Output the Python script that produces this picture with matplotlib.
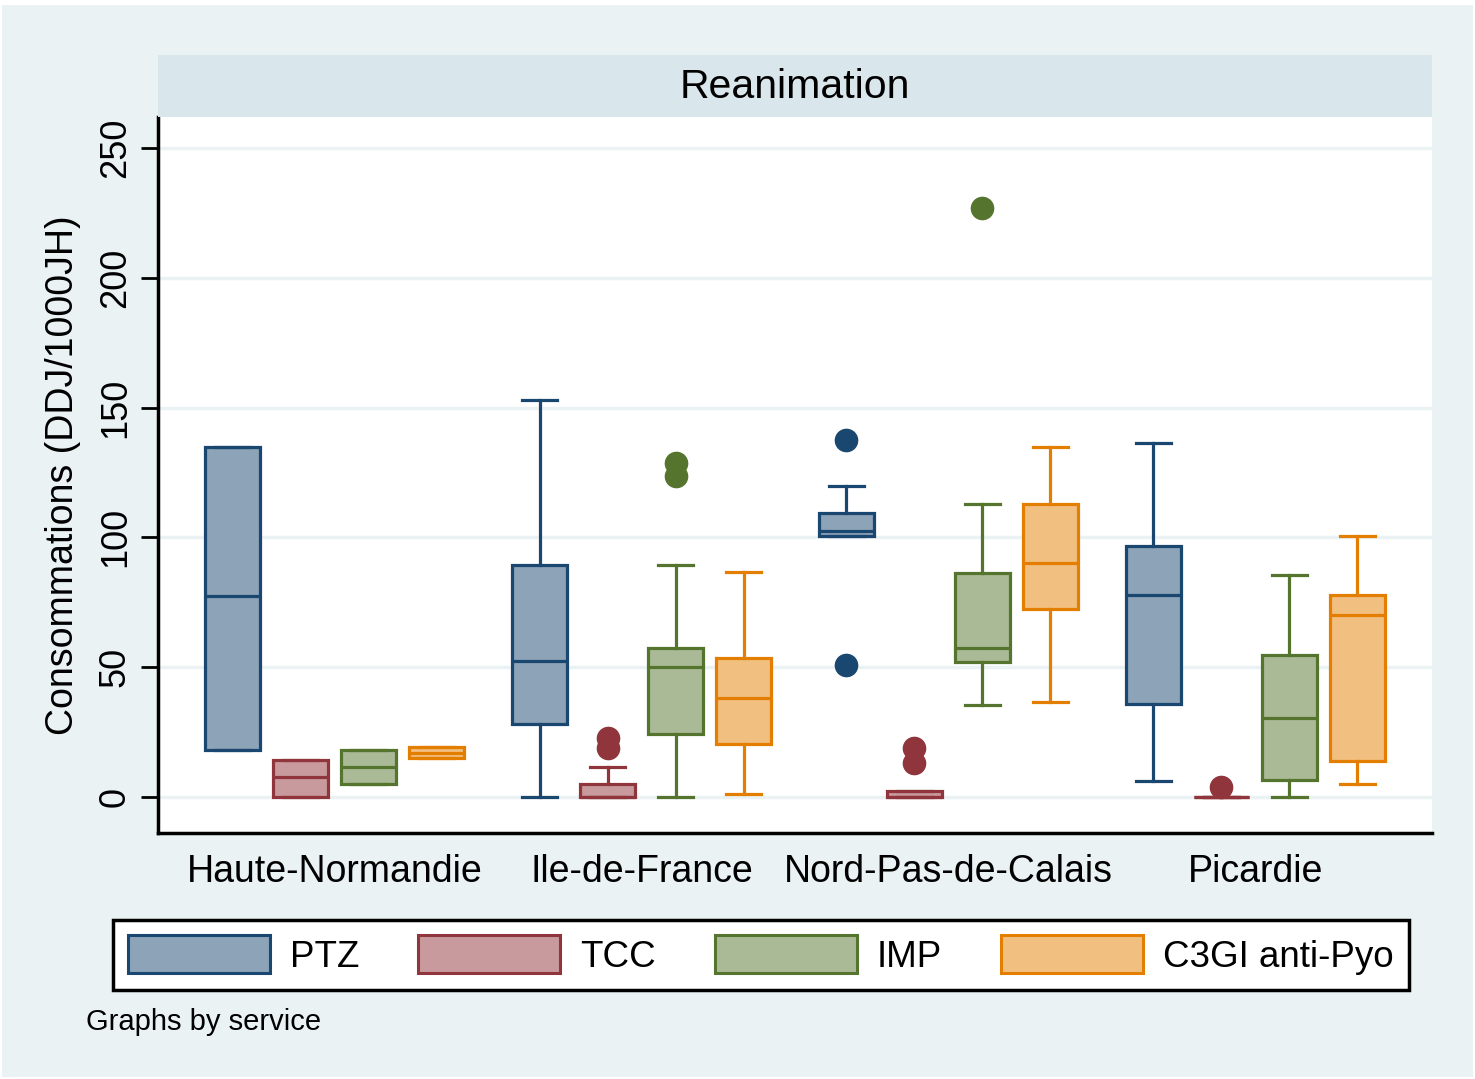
import numpy as np
import matplotlib.pyplot as plt
from matplotlib.patches import Patch, Rectangle

plt.rcParams['font.family'] = ['Liberation Sans', 'DejaVu Sans']

# Données
regions = ['Haute-Normandie', 'Ile-de-France', 'Nord-Pas-de-Calais', 'Picardie']
series = ['PTZ', 'TCC', 'IMP', 'C3GI anti-Pyo']

# une liste par série, un élément par région
ptz_whislo = [18.1, 0.0, 100.5, 6.3]
ptz_q1 = [18.1, 28.2, 100.5, 35.9]
ptz_med = [77.5, 52.2, 102.4, 77.8]
ptz_q3 = [135.0, 89.2, 109.4, 96.8]
ptz_whishi = [135.0, 152.8, 119.7, 136.5]
ptz_out = [[], [], [137.5, 50.7], []]

tcc_whislo = [0.0, 0.0, 0.0, 0.0]
tcc_q1 = [0.0, 0.0, 0.0, 0.0]
tcc_med = [7.7, 0.0, 0.0, 0.0]
tcc_q3 = [14.1, 5.0, 2.4, 0.0]
tcc_whishi = [14.1, 11.4, 2.4, 0.0]
tcc_out = [[], [22.6, 18.8], [18.9, 12.9], [4.0]]

imp_whislo = [5.0, 0.0, 35.4, 0.0]
imp_q1 = [5.0, 24.3, 52.0, 6.6]
imp_med = [11.6, 50.0, 57.2, 30.6]
imp_q3 = [18.1, 57.4, 86.3, 54.7]
imp_whishi = [18.1, 89.2, 113.0, 85.4]
imp_out = [[], [128.7, 123.6], [226.8], []]

c3g_whislo = [15.0, 1.2, 36.7, 5.0]
c3g_q1 = [15.0, 20.4, 72.4, 14.0]
c3g_med = [17.0, 38.3, 90.2, 70.1]
c3g_q3 = [19.3, 53.5, 113.0, 77.8]
c3g_whishi = [19.3, 86.7, 134.8, 100.7]
c3g_out = [[], [], [], []]

edge_colors = ['#1A476F', '#90353B', '#55752F', '#E37E00']
fill_colors = ['#8CA3B8', '#C89A9D', '#AABA96', '#F1BF80']

all_stats = [
    (ptz_whislo, ptz_q1, ptz_med, ptz_q3, ptz_whishi, ptz_out),
    (tcc_whislo, tcc_q1, tcc_med, tcc_q3, tcc_whishi, tcc_out),
    (imp_whislo, imp_q1, imp_med, imp_q3, imp_whishi, imp_out),
    (c3g_whislo, c3g_q1, c3g_med, c3g_q3, c3g_whishi, c3g_out),
]

BG = '#EAF2F3'
STRIP = '#D9E6EB'

fig = plt.figure(figsize=(14.75, 10.79), dpi=100, facecolor='white')
fig.patches.append(Rectangle((2 / 1475, 2 / 1079), 1471 / 1475, 1072 / 1079,
                             transform=fig.transFigure, facecolor=BG,
                             edgecolor='none', zorder=-10))

W, H = 1475, 1079
ax = fig.add_axes([158 / W, 1 - 833 / H, (1432 - 158) / W, (833 - 117) / H])
ax.set_facecolor('white')

# bandeau du titre
strip = fig.add_axes([158 / W, 1 - 117 / H, (1432 - 158) / W, (117 - 55) / H])
strip.set_facecolor(STRIP)
strip.set_xticks([])
strip.set_yticks([])
for s in strip.spines.values():
    s.set_visible(False)
strip.text(0.5, 0.48, 'Reanimation', ha='center', va='center', fontsize=29.5,
           transform=strip.transAxes)

step = 0.2215
offsets = (np.arange(4) - 1.5) * step
box_w = 0.182

for k, (wlo, q1, med, q3, whi, outl) in enumerate(all_stats):
    stats = []
    for i in range(len(regions)):
        stats.append(dict(whislo=wlo[i], q1=q1[i], med=med[i], q3=q3[i],
                          whishi=whi[i], fliers=outl[i]))
    ec = edge_colors[k]
    ax.bxp(stats, positions=np.arange(len(regions)) + offsets[k], widths=box_w,
           patch_artist=True, showfliers=True, manage_ticks=False,
           boxprops=dict(facecolor=fill_colors[k], edgecolor=ec, linewidth=2.3),
           medianprops=dict(color=ec, linewidth=2.3),
           whiskerprops=dict(color=ec, linewidth=2.3),
           capprops=dict(color=ec, linewidth=2.3),
           capwidths=box_w * 0.62,
           flierprops=dict(marker='o', markerfacecolor=ec, markeredgecolor=ec,
                           markersize=16))

ax.set_xlim(-0.575, 3.575)
ax.set_ylim(-13.9, 262)
ax.set_yticks([0, 50, 100, 150, 200, 250])
ax.set_yticklabels(['0', '50', '100', '150', '200', '250'], rotation=90,
                   va='center', fontsize=26)
ax.set_xticks(np.arange(len(regions)))
ax.set_xticklabels(regions, fontsize=27)
ax.tick_params(axis='x', length=0, pad=15)
ax.tick_params(axis='y', length=12, width=2, pad=6)
ax.grid(axis='y', color=BG, linewidth=2.5, zorder=0)
ax.set_axisbelow(True)
for side in ['top', 'right']:
    ax.spines[side].set_visible(False)
ax.spines['left'].set_linewidth(2.5)
ax.spines['bottom'].set_linewidth(2.5)
ax.set_ylabel('Consommations (DDJ/1000JH)', fontsize=27, labelpad=12)

handles = [Patch(facecolor=fill_colors[k], edgecolor=edge_colors[k], linewidth=2.2)
           for k in range(4)]
leg = fig.legend(handles, series, loc='center', ncol=4,
                 bbox_to_anchor=(761 / W, 1 - 955 / H), fontsize=26.5,
                 handlelength=3.85, handleheight=1.2, handletextpad=0.55,
                 columnspacing=1.6, borderpad=0.42, borderaxespad=0,
                 fancybox=False, edgecolor='black', framealpha=1)
leg.get_frame().set_linewidth(2.5)

fig.text(86 / W, 1 - 1022 / H, 'Graphs by service', fontsize=21, va='center', ha='left')

fig.savefig('out.png', dpi=100, facecolor=fig.get_facecolor())
